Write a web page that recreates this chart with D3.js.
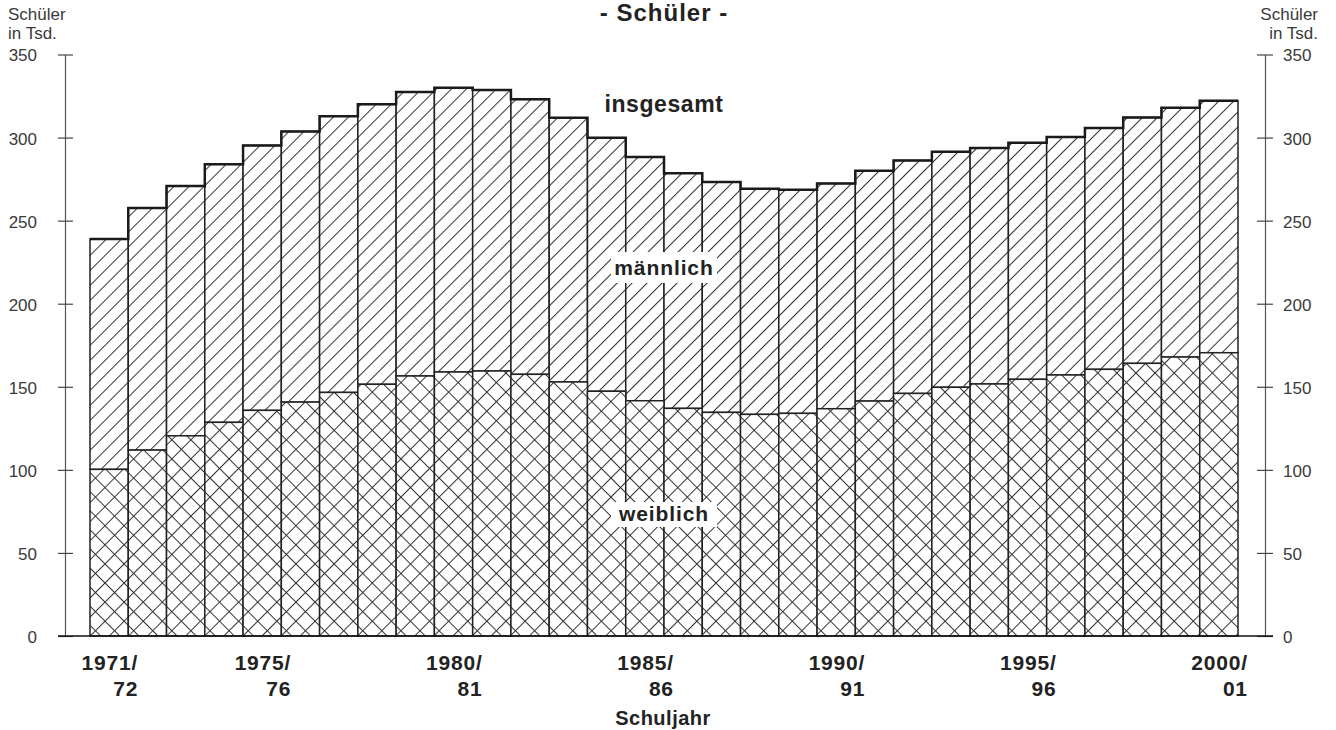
<!DOCTYPE html>
<html>
<head>
<meta charset="utf-8">
<script src="https://cdn.jsdelivr.net/npm/d3@7"></script>
<style>
  body { margin: 0; background: #fff; }
  svg { display: block; font-family: "Liberation Sans", Arial, sans-serif; }
</style>
</head>
<body>
<div id="chart"></div>
<script>
// Schüler nach Geschlecht, in Tsd.
const years = ['1971/72', '1972/73', '1973/74', '1974/75', '1975/76', '1976/77', '1977/78', '1978/79',
  '1979/80', '1980/81', '1981/82', '1982/83', '1983/84', '1984/85', '1985/86', '1986/87', '1987/88',
  '1988/89', '1989/90', '1990/91', '1991/92', '1992/93', '1993/94', '1994/95', '1995/96', '1996/97',
  '1997/98', '1998/99', '1999/00', '2000/01'];
const total = [239, 257.6, 270.8, 283.9, 295.3, 303.7, 312.9, 320.0, 327.4, 330.0, 328.6, 323.0,
  311.9, 299.9, 288.3, 278.6, 273.2, 269.2, 268.6, 272.4, 280.0, 286.2, 291.5, 293.7, 296.9, 300.3,
  305.7, 312.1, 317.9, 322.2];
const female = [100.3, 111.9, 120.5, 128.6, 135.8, 140.8, 146.6, 151.5, 156.5, 158.9, 159.5, 157.5,
  152.9, 147.3, 141.6, 137.0, 134.6, 133.4, 134.0, 136.8, 141.4, 146.0, 149.7, 151.7, 154.5, 157.1,
  160.5, 164.1, 167.9, 170.5];
const labelledYears = ['1971/72', '1975/76', '1980/81', '1985/86', '1990/91', '1995/96', '2000/01'];
const yTicks = [0, 50, 100, 150, 200, 250, 300, 350];

const W = 1336, H = 730;
const data = years.map((y, i) => ({ year: y, total: total[i], female: female[i] }));

const svg = d3.select('#chart').append('svg')
  .attr('width', W)
  .attr('height', H);

// Hatch patterns
const defs = svg.append('defs');
const male = defs.append('pattern')
  .attr('id', 'hatch-m')
  .attr('patternUnits', 'userSpaceOnUse')
  .attr('width', 10.6).attr('height', 10.6)
  .attr('patternTransform', 'rotate(45)');
male.append('rect').attr('width', 10.6).attr('height', 10.6).attr('fill', '#fff');
male.append('line').attr('x1', 0.5).attr('x2', 0.5).attr('y1', 0).attr('y2', 10.6)
  .attr('stroke', '#333').attr('stroke-width', 1);

const fem = defs.append('pattern')
  .attr('id', 'hatch-f')
  .attr('patternUnits', 'userSpaceOnUse')
  .attr('width', 13.5).attr('height', 13.5)
  .attr('patternTransform', 'rotate(45)');
fem.append('rect').attr('width', 13.5).attr('height', 13.5).attr('fill', '#fff');
fem.append('line').attr('x1', 0.5).attr('x2', 0.5).attr('y1', 0).attr('y2', 13.5)
  .attr('stroke', '#333').attr('stroke-width', 1);
fem.append('line').attr('y1', 0.5).attr('y2', 0.5).attr('x1', 0).attr('x2', 13.5)
  .attr('stroke', '#333').attr('stroke-width', 1);

// Scales
const x = d3.scaleBand()
  .domain(years)
  .range([90, 1238])
  .padding(0);

const y = d3.scaleLinear()
  .domain([0, 350])
  .range([636, 54.5]);

// Axes left and right
const axL = svg.append('g')
  .attr('transform', 'translate(65,0)')
  .call(d3.axisLeft(y).tickValues(yTicks).tickSize(0).tickPadding(0));
axL.select('.domain').attr('stroke', '#555').attr('stroke-width', 1.2);
axL.selectAll('.tick line').attr('x1', -7).attr('x2', 8).attr('stroke', '#444').attr('stroke-width', 1.2);
axL.selectAll('.tick text')
  .attr('x', -28).attr('dy', '0.38em')
  .style('font-size', '17px').style('font-family', '"Liberation Sans", Arial, sans-serif')
  .attr('fill', '#3a3a3a');

const axR = svg.append('g')
  .attr('transform', 'translate(1265,0)')
  .call(d3.axisRight(y).tickValues(yTicks).tickSize(0).tickPadding(0));
axR.select('.domain').attr('stroke', '#555').attr('stroke-width', 1.2);
axR.selectAll('.tick line').attr('x1', -8).attr('x2', 8).attr('stroke', '#444').attr('stroke-width', 1.2);
axR.selectAll('.tick text')
  .attr('x', 18).attr('dy', '0.38em')
  .style('font-size', '17px').style('font-family', '"Liberation Sans", Arial, sans-serif')
  .attr('fill', '#3a3a3a');

// Unit labels
[[8, 'start'], [1318, 'end']].forEach(([px, anchor]) => {
  const t = svg.append('text')
    .attr('x', px).attr('y', 20)
    .attr('text-anchor', anchor)
    .style('font-size', '17px')
    .attr('fill', '#3a3a3a');
  t.append('tspan').attr('x', px).text('Schüler');
  t.append('tspan').attr('x', px).attr('dy', 19).text('in Tsd.');
});

// Bars: weiblich (cross hatch) and männlich (single hatch)
const bars = svg.append('g');
bars.selectAll('.m')
  .data(data)
  .enter()
  .append('rect')
  .attr('class', 'm')
  .attr('x', d => x(d.year))
  .attr('y', d => y(d.total))
  .attr('width', x.bandwidth())
  .attr('height', d => y(d.female) - y(d.total))
  .attr('fill', 'url(#hatch-m)')
  .attr('stroke', '#222')
  .attr('stroke-width', 1.5);

bars.selectAll('.f')
  .data(data)
  .enter()
  .append('rect')
  .attr('class', 'f')
  .attr('x', d => x(d.year))
  .attr('y', d => y(d.female))
  .attr('width', x.bandwidth())
  .attr('height', d => y(0) - y(d.female))
  .attr('fill', 'url(#hatch-f)')
  .attr('stroke', '#222')
  .attr('stroke-width', 1.5);

// Heavier outline along the totals
const step = [];
data.forEach(d => {
  step.push([x(d.year), y(d.total)]);
  step.push([x(d.year) + x.bandwidth(), y(d.total)]);
});
svg.append('path')
  .attr('d', d3.line()(step))
  .attr('fill', 'none')
  .attr('stroke', '#1a1a1a')
  .attr('stroke-width', 2.5);

// Baseline
svg.append('line')
  .attr('x1', 58).attr('x2', 1273)
  .attr('y1', y(0)).attr('y2', y(0))
  .attr('stroke', '#111')
  .attr('stroke-width', 1.5);

// X labels
const xl = svg.append('g')
  .selectAll('text')
  .data(labelledYears)
  .enter()
  .append('text')
  .attr('text-anchor', 'end')
  .style('font-size', '21px')
  .style('font-weight', 'bold')
  .style('letter-spacing', '0.8px')
  .attr('fill', '#222');
xl.append('tspan')
  .attr('x', d => x(d) + x.bandwidth() / 2 + 29)
  .attr('y', 670)
  .text(d => d.split('/')[0] + '/');
xl.append('tspan')
  .attr('x', d => x(d) + x.bandwidth() / 2 + 29)
  .attr('y', 696)
  .text(d => d.split('/')[1]);

svg.append('text')
  .attr('x', 663).attr('y', 725)
  .attr('text-anchor', 'middle')
  .style('font-size', '20px').style('font-weight', 'bold').style('letter-spacing', '0.5px')
  .attr('fill', '#222')
  .text('Schuljahr');

// Title
svg.append('text')
  .attr('x', 664).attr('y', 21)
  .attr('text-anchor', 'middle')
  .style('font-size', '24px').style('font-weight', 'bold').style('letter-spacing', '1px')
  .attr('fill', '#222')
  .text('- Schüler -');

// Series labels
svg.append('text')
  .attr('x', 664).attr('y', 112)
  .attr('text-anchor', 'middle')
  .style('font-size', '23px').style('font-weight', 'bold').style('letter-spacing', '0.6px')
  .attr('fill', '#222')
  .text('insgesamt');

[['männlich', 275, 252, 31], ['weiblich', 521, 502, 25]].forEach(([label, base, top, h]) => {
  svg.append('rect')
    .attr('x', 611).attr('y', top)
    .attr('width', 106).attr('height', h)
    .attr('fill', '#fff');
  svg.append('text')
    .attr('x', 664).attr('y', base)
    .attr('text-anchor', 'middle')
    .style('font-size', '21px').style('font-weight', 'bold').style('letter-spacing', '0.9px')
    .attr('fill', '#222')
    .text(label);
});
</script>
</body>
</html>
